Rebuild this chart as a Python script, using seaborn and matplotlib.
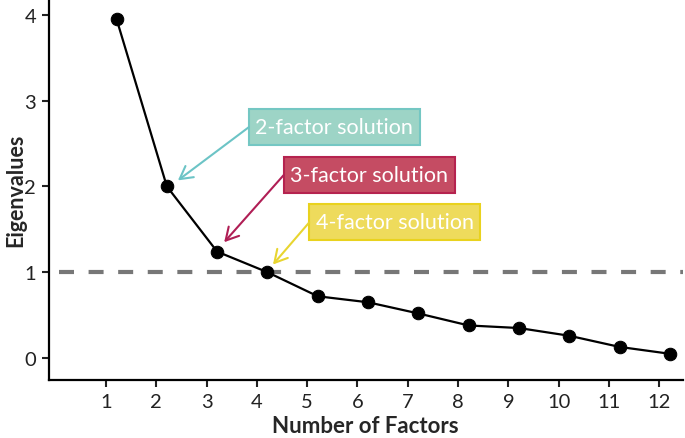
import seaborn as sns
import matplotlib.pyplot as plt
import pandas as pd
from matplotlib.patches import Rectangle

# scree plot values
factors = [1, 2, 3, 4, 5, 6, 7, 8, 9, 10, 11, 12]
eigenvalues = [3.95, 2.0, 1.24, 1.0, 0.72, 0.65, 0.52, 0.38, 0.35, 0.26, 0.13, 0.05]
kaiser_cutoff = 1.0

# callout boxes: label, box lower-left (data), arrow tip (data), fill, edge, arrow colour
labels = ['2-factor solution', '3-factor solution', '4-factor solution']
box_corners = [(3.84, 2.48), (4.53, 1.92), (5.04, 1.37)]
arrow_tips = [(2.43, 2.07), (3.35, 1.35), (4.32, 1.09)]
fill_colors = ['#9dd4c6', '#c54c63', '#eedb5c']
edge_colors = ['#74c7c3', '#b5234f', '#e9d21e']
arrow_colors = ['#6cc4c6', '#b01e55', '#e8d530']
box_w, box_h = 3.40, 0.42

sns.set_style('ticks')
plt.rcParams['font.family'] = ['Lato', 'DejaVu Sans']

df = pd.DataFrame({'factor': factors, 'eigen': eigenvalues})
# points sit slightly right of their tick in the original
df['xpos'] = df['factor'] + 0.21

fig = plt.figure(figsize=(6.85, 4.39), dpi=100)
ax = fig.add_axes([0.071, 0.132, 0.926, 0.868])

ax.axhline(kaiser_cutoff, color='#777777', lw=3, linestyle=(4.7, (3.6, 3.5)), zorder=1)
sns.lineplot(data=df, x='xpos', y='eigen', color='black', lw=1.6, marker='o',
             markersize=9, markeredgecolor='black', ax=ax, zorder=3)

for lab, (bx, by), tip, fc, ec, ac in zip(labels, box_corners, arrow_tips,
                                          fill_colors, edge_colors, arrow_colors):
    ax.add_patch(Rectangle((bx, by), box_w, box_h, facecolor=fc, edgecolor=ec,
                           lw=1.5, zorder=4))
    ax.text(bx + box_w / 2, by + box_h / 2, lab, color='white', fontsize=15.5,
            ha='center', va='center', zorder=5)
    ax.annotate('', xy=tip, xytext=(bx, by + box_h / 2),
                arrowprops=dict(arrowstyle='->,head_length=0.45,head_width=0.25',
                                color=ac, lw=1.5, mutation_scale=20,
                                shrinkA=0, shrinkB=0), zorder=4)

ax.set_xlim(-0.14, 12.47)
ax.set_ylim(-0.256, 4.183)
ax.set_xticks(factors)
ax.set_yticks([0, 1, 2, 3, 4])
ax.tick_params(labelsize=14.5, length=5, width=1.5, colors='#222222', pad=4)
for s in ['left', 'bottom']:
    ax.spines[s].set_linewidth(1.6)
    ax.spines[s].set_color('black')
sns.despine(ax=ax)

ax.set_xlabel('Number of Factors', fontsize=16, fontweight='bold', labelpad=4)
ax.set_ylabel('Eigenvalues', fontsize=15.5, fontweight='bold')
ax.yaxis.set_label_coords(-0.036, 0.5)

fig.savefig('out.png', dpi=100)
